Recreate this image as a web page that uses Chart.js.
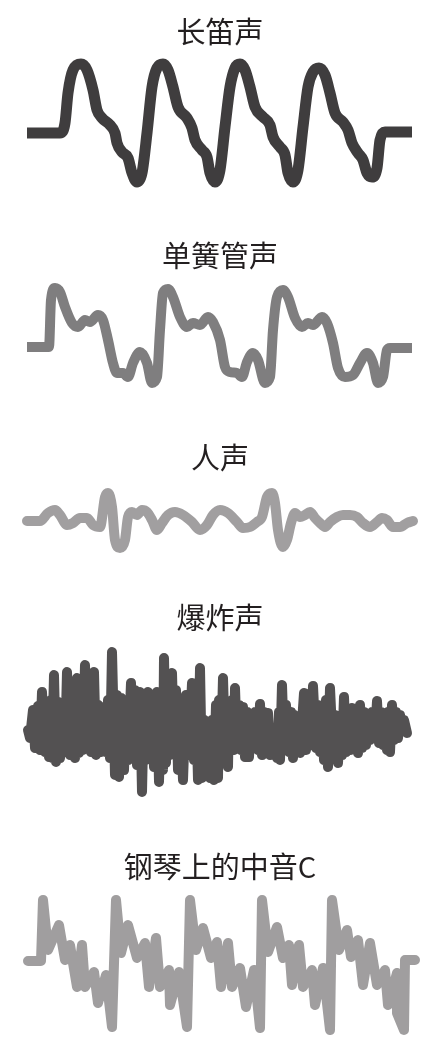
<!DOCTYPE html>
<html><head><meta charset="utf-8">
<script src="https://cdn.jsdelivr.net/npm/chart.js@4.4.1/dist/chart.umd.min.js"></script>
<style>
html,body{margin:0;padding:0;background:#fff}
#wrap{position:relative;width:443px;height:1049px;overflow:hidden;background:#fff}
.panel{position:absolute;left:0;width:443px}
</style>
</head><body><div id="wrap"></div>
<script>
// Titles
const titles = ['长笛声', '单簧管声', '人声', '爆炸声', '钢琴上的中音C'];

// Flute (time, amplitude)
const fluteT = [0,33,38,41,46,54,60,66,70,75,83,88,90,95,101,105,110,115,120,125,130,136,141,146,151,160,165,168,175,180,183,188,193,198,203,208,213,218,223,228,236,243,246,253,258,261,266,271,276,281,286,292,298,303,308,316,321,325,331,336,340,345,350,353,358,385];
const fluteA = [0,0,10,40,63,69,63,43,23,15,8,0,-10,-19,-25,-40,-49,-40,0,46,65,69,63,46,26,15,5,-7,-17,-24,-40,-49,-37,6,46,65,69,63,46,26,16,8,-4,-14,-22,-40,-49,-37,6,46,61,65,58,40,20,11,3,-10,-20,-27,-40,-44,-35,-7,1,1];

// Clarinet
const clarinetT = [0,22,24,28,33,38,45,51,58,63,71,76,81,86,90,96,101,106,113,120,125,130,133,136,141,146,153,160,166,173,181,186,193,198,203,210,215,220,226,231,238,243,246,250,256,261,268,275,281,286,295,300,306,311,318,326,333,340,346,351,356,360,363,385];
const clarinetA = [0,0,47,59,55,40,24,20,27,25,32,27,7,-16,-26,-26,-30,-16,-5,-16,-36,-30,17,54,58,50,30,20,24,22,30,25,7,-20,-25,-26,-30,-15,-6,-13,-36,-30,17,50,57,50,29,20,24,22,30,24,4,-21,-30,-28,-16,-6,-16,-36,-30,-3,-1,-1];

// Voice
const voiceT = [0,13,21,28,33,40,46,53,60,66,73,78,81,85,88,93,98,101,105,110,115,120,125,130,135,141,148,156,165,173,180,186,193,201,210,216,223,230,235,240,245,248,251,256,260,264,268,273,278,283,288,293,298,303,310,316,323,330,336,343,350,355,360,366,373,380,386];
const voiceA = [0,0,8,11,6,-4,-2,3,3,-4,-6,24,28,14,-19,-27,-19,4,9,6,11,9,1,-9,-2,6,9,6,-1,-9,-4,6,11,8,-1,-7,-6,-1,4,24,28,18,-9,-26,-19,-2,8,4,6,9,3,-2,-6,-1,4,6,6,4,-2,-6,-1,3,1,-6,-6,-2,0];

// Explosion
const explosionT = [1,3,6,8,11,13,15,18,20,22,24,25,27,29,31,33,35,38,40,43,45,48,50,52,54,56,58,60,62,64,67,69,71,74,77,79,81,83,85,88,90,92,94,97,99,101,104,106,108,110,113,115,117,119,121,123,125,127,130,132,134,136,137,139,141,143,145,147,149,151,153,156,159,162,165,167,169,171,173,175,177,179,181,183,185,187,189,191,192,194,196,198,199,201,202,204,205,207,208,210,212,214,216,218,220,222,224,226,228,231,233,235,237,239,241,243,245,247,248,250,252,253,255,257,259,262,264,266,267,269,270,273,277,279,282,284,286,289,291,293,295,297,299,301,303,306,308,311,313,315,317,319,321,323,325,327,329,331,333,335,337,339,341,343,345,348,350,352,354,356,358,360,361,363,365,367,369,371,373,375,377,380];
const explosionA = [0,-8,20,-18,24,-20,38,-22,23,-27,30,-28,55,-32,28,-28,25,-22,58,-25,43,-28,52,-23,47,-20,65,-17,43,-22,58,-25,25,-22,23,-22,30,-28,78,-45,35,-47,32,-40,30,-30,47,-28,40,-35,38,-62,30,-30,38,-22,30,-37,38,-52,30,-40,72,-33,50,-25,57,-18,40,-40,32,-50,35,-25,47,-30,30,-50,62,-48,10,-40,-15,-48,10,-50,25,-48,30,-27,52,-18,25,-37,20,-15,30,-20,42,-18,25,-20,23,-27,18,-27,15,-10,18,-20,26,-25,18,-22,17,-25,-5,-15,-10,-28,18,-30,45,-18,25,-22,18,-28,15,-20,10,-23,37,-20,20,-15,44,-18,25,-22,23,-30,30,-37,42,-22,15,-33,2,-25,33,-22,20,-20,22,-18,18,-23,25,-18,18,-15,15,-10,18,-8,29,-13,18,-15,13,-20,18,-22,25,-10,18,-8,15,0,10,-3];

// Piano middle C
const pianoT = [1,14,16,21,32,38,43,50,55,58,67,71,79,85,89,94,101,110,118,122,129,133,142,143,152,160,163,169,176,184,190,194,201,205,213,219,227,233,235,241,250,256,262,265,272,276,285,288,296,303,305,312,320,324,331,336,343,350,358,361,370,370,377,378,388];
const pianoA = [0,0,61,11,36,1,16,-26,16,-26,-11,-42,-14,-66,61,8,36,3,18,-26,23,-26,-9,-44,-11,-66,61,11,33,3,19,-26,18,-26,-7,-46,-9,-67,61,9,34,3,16,-24,16,-26,-9,-44,-7,-69,61,11,31,4,21,-24,18,-24,-9,-44,-12,-52,-69,1,1];

const panels = [
  {title: titles[0], t: fluteT, a: fluteA, color: '#3f3d3e', width: 11, smooth: true, cap: 'butt', titleY: 32, baseline: 133, areaTop: 50, areaBottom: 200},
  {title: titles[1], t: clarinetT, a: clarinetA, color: '#7f7e7f', width: 10, smooth: true, cap: 'butt', titleY: 256, baseline: 347, areaTop: 275, areaBottom: 400},
  {title: titles[2], t: voiceT, a: voiceA, color: '#a19fa0', width: 10, smooth: true, cap: 'round', titleY: 458, baseline: 521, areaTop: 480, areaBottom: 560},
  {title: titles[3], t: explosionT, a: explosionA, color: '#535152', width: 10, smooth: false, cap: 'round', titleY: 618, baseline: 730, areaTop: 640, areaBottom: 805},
  {title: titles[4], t: pianoT, a: pianoA, color: '#a09e9f', width: 10, smooth: false, cap: 'round', titleY: 867, baseline: 961, areaTop: 890, areaBottom: 1040}
];

const FONT_SIZE = 29;
const LH = FONT_SIZE * 1.2;
const wrap = document.getElementById('wrap');

panels.forEach(p => {
  const top = p.titleY - 27;
  const h = p.areaBottom - top;
  const div = document.createElement('div');
  div.className = 'panel';
  div.style.top = top + 'px';
  div.style.height = h + 'px';
  const c = document.createElement('canvas');
  div.appendChild(c);
  wrap.appendChild(div);
  new Chart(c, {
    type: 'line',
    data: {
      datasets: [{
        label: p.title,
        data: p.t.map((t, i) => ({x: t, y: p.a[i]})),
        borderColor: p.color,
        borderWidth: p.width,
        pointRadius: 0,
        fill: false,
        clip: false,
        tension: 0,
        cubicInterpolationMode: p.smooth ? 'monotone' : 'default',
        borderJoinStyle: 'round',
        borderCapStyle: p.cap
      }]
    },
    options: {
      responsive: true,
      maintainAspectRatio: false,
      animation: false,
      events: [],
      layout: {padding: {left: 27, right: 30, top: 0, bottom: 0}},
      plugins: {
        legend: {display: false},
        tooltip: {enabled: false},
        title: {
          display: true,
          text: p.title,
          color: '#231f20',
          font: {family: "'Noto Sans CJK SC', sans-serif", size: FONT_SIZE, weight: 'normal', lineHeight: 1.2},
          padding: {top: 27 - LH / 2, bottom: p.areaTop - p.titleY - LH / 2}
        }
      },
      scales: {
        x: {type: 'linear', display: false, min: 0, max: 386},
        y: {display: false, min: p.baseline - p.areaBottom, max: p.baseline - p.areaTop}
      }
    }
  });
});
</script>
</body></html>
